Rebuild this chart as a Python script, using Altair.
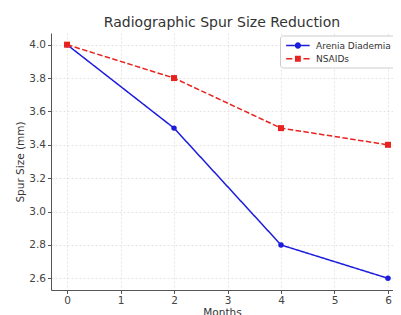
import altair as alt
import pandas as pd

months = [0, 2, 4, 6]
arenia = [4.0, 3.5, 2.8, 2.6]
nsaids = [4.0, 3.8, 3.5, 3.4]
series_names = ["Arenia Diademia", "NSAIDs"]
x_ticks = [0, 1, 2, 3, 4, 5, 6]
y_ticks = [2.6, 2.8, 3.0, 3.2, 3.4, 3.6, 3.8, 4.0]

colors = ["#1c1cdc", "#e8231f"]

rows = []
for m, v in zip(months, arenia):
    rows.append({"Months": m, "Size": v, "Series": series_names[0]})
for m, v in zip(months, nsaids):
    rows.append({"Months": m, "Size": v, "Series": series_names[1]})
df = pd.DataFrame(rows)

FONT = "DejaVu Sans"

xs = alt.Scale(domain=[-0.3, 6.094], nice=False, zero=False)
ys = alt.Scale(domain=[2.53, 4.07], nice=False, zero=False)
cs = alt.Scale(domain=series_names, range=colors)

x_enc = alt.X("Months:Q", scale=xs, title="Months",
              axis=alt.Axis(values=x_ticks, format="d", grid=True))
y_enc = alt.Y("Size:Q", scale=ys, title="Spur Size (mm)",
              axis=alt.Axis(values=y_ticks, format=".1f", grid=True))

leg_paths = [
    "M-1.8,-0.12H-0.4V0.12H-1.8Z M0.4,-0.12H1.8V0.12H0.4Z "
    "M-0.48,0 A0.48,0.48 0 1,1 0.48,0 A0.48,0.48 0 1,1 -0.48,0Z",
    "M-1.8,-0.12H-0.85V0.12H-1.8Z M0.85,-0.12H1.8V0.12H0.85Z M-0.45,-0.45H0.45V0.45H-0.45Z",
]

leg = alt.Legend(orient="none", legendX=229, legendY=2.5, title=None, symbolSize=170,
                 symbolStrokeWidth=0, symbolOffset=7.9, labelOffset=11.1,
                 labelFont=FONT, labelFontSize=9, labelColor="#333333",
                 strokeColor="#cccccc", fillColor="white",
                 cornerRadius=3, padding=3, rowPadding=1.3)

color_enc = alt.Color("Series:N", scale=cs, title=None, legend=leg)

base = alt.Chart(df)

lines = base.mark_line(strokeWidth=1.5).encode(
    x=x_enc, y=y_enc,
    color=color_enc,
    strokeDash=alt.StrokeDash("Series:N",
                              scale=alt.Scale(domain=series_names, range=[[1, 0], [5.5, 2.4]]),
                              legend=None),
    order=alt.Order("Months:Q"),
)

pts_a = base.mark_point(filled=True, opacity=1, shape="circle", size=30).encode(
    x=x_enc, y=y_enc, color=color_enc,
).transform_filter(alt.datum.Series == series_names[0])

pts_n = base.mark_point(filled=True, opacity=1, shape="square", size=36).encode(
    x=x_enc, y=y_enc, color=color_enc,
).transform_filter(alt.datum.Series == series_names[1])

legend_layer = base.mark_point(filled=True, opacity=1, size=170).encode(
    x=x_enc, y=y_enc,
    color=color_enc,
    shape=alt.Shape("Series:N", scale=alt.Scale(domain=series_names, range=leg_paths),
                    title=None, legend=leg),
).transform_filter("datum.Size > 100")

chart = alt.layer(lines, pts_a, pts_n, legend_layer).properties(
    width=342, height=257,
    autosize=alt.AutoSizeParams(type="none"),
    padding={"left": 43, "top": 25, "right": 0, "bottom": 30},
    title=alt.TitleParams("Radiographic Spur Size Reduction", font=FONT, fontSize=14,
                          fontWeight="normal", color="#333333", offset=3, anchor="middle"),
).configure_view(stroke=None).configure_axis(
    labelFont=FONT, labelFontSize=10.5, labelColor="#444444",
    titleFont=FONT, titleFontSize=10.5, titleFontWeight="normal", titleColor="#333333",
    domainColor="#555555", domainWidth=1, tickColor="#555555", tickSize=3.5, labelPadding=2,
    gridColor="#dddddd", gridDash=[2, 2], gridWidth=0.8,
).configure_axisY(titlePadding=3).configure_axisX(titlePadding=1)

chart.save("out.html", embed_options={"renderer": "svg", "actions": False})
